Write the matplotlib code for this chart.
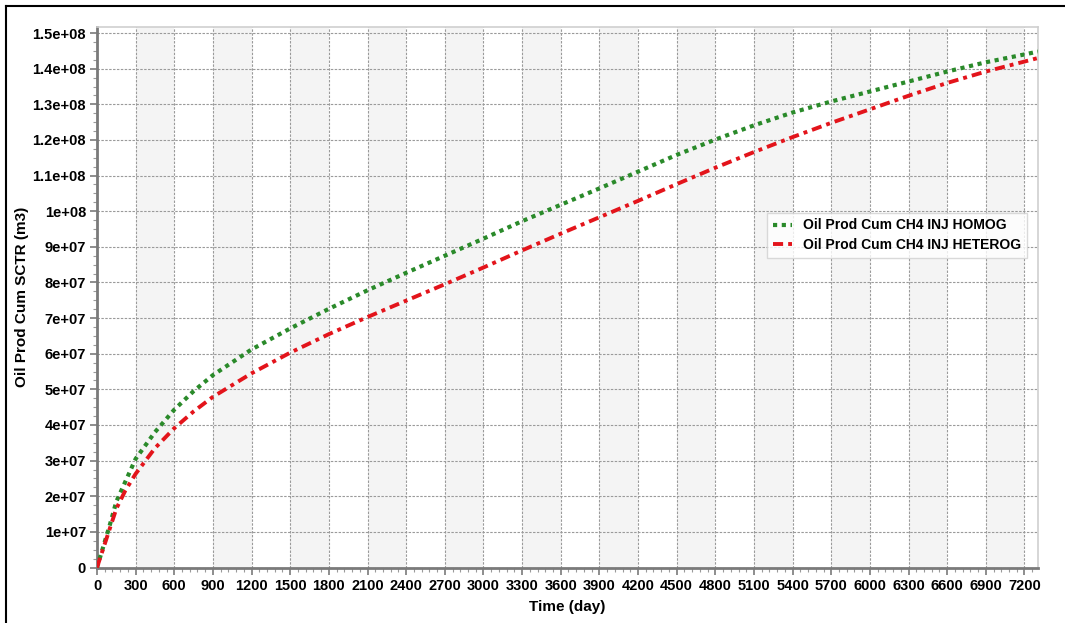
import matplotlib
matplotlib.use("Agg")
import matplotlib.pyplot as plt
from matplotlib.ticker import MultipleLocator, AutoMinorLocator, FuncFormatter
from matplotlib.lines import Line2D

plt.rcParams['font.family'] = ['Liberation Sans', 'DejaVu Sans']
plt.rcParams['font.weight'] = 'bold'

# Cumulative oil production over time (days)
time_days = [0, 50, 100, 150, 220, 300, 450, 600, 750, 900, 1200, 1500, 1800,
             2100, 2400, 2700, 3000, 3300, 3600, 3900, 4200, 4500, 4800,
             5100, 5400, 5700, 6000, 6300, 6600, 6900, 7200, 7305]

oil_cum_homog = [0, 6.0e6, 12.0e6, 18.5e6, 24.1e6, 30.5e6, 38.0e6, 44.3e6,
                 49.5e6, 54.0e6, 61.2e6, 67.1e6, 72.6e6, 77.8e6, 82.7e6,
                 87.5e6, 92.3e6, 97.2e6, 101.8e6, 106.4e6, 111.1e6, 115.8e6,
                 120.1e6, 124.1e6, 127.7e6, 130.8e6, 133.6e6, 136.4e6,
                 139.2e6, 141.8e6, 144.0e6, 144.8e6]

oil_cum_heterog = [0, 5.5e6, 11.0e6, 16.5e6, 21.6e6, 26.3e6, 33.5e6, 39.1e6,
                   43.8e6, 47.9e6, 54.5e6, 60.3e6, 65.5e6, 70.3e6, 74.9e6,
                   79.5e6, 84.2e6, 89.0e6, 93.7e6, 98.3e6, 102.9e6, 107.6e6,
                   112.2e6, 116.6e6, 120.8e6, 124.8e6, 128.6e6, 132.4e6,
                   136.0e6, 139.2e6, 142.0e6, 143.0e6]

series_labels = ["Oil Prod Cum CH4 INJ HOMOG", "Oil Prod Cum CH4 INJ HETEROG"]
x_label = "Time (day)"
y_label = "Oil Prod Cum SCTR (m3)"

fig = plt.figure(figsize=(10.65, 6.23), dpi=100)
ax = fig.add_axes([97 / 1065, 1 - 567.5 / 623, (1038 - 97) / 1065, (567.5 - 27) / 623])

x_max = 7305
y_max = 1.517e8
ax.set_xlim(0, x_max)
ax.set_ylim(0, y_max)

# alternating shaded columns
for start in range(300, 7300, 600):
    ax.axvspan(start, min(start + 300, x_max), color='#f4f4f4', zorder=0, lw=0)

ax.grid(True, which='major', color='#9a9a9a', linestyle=(0, (2.2, 1.3)), linewidth=0.8, zorder=1)
ax.set_axisbelow(True)

green = '#2a8a2a'
red = '#e3141b'
ax.plot(time_days, oil_cum_homog, color=green, linestyle=(0, (1, 1.1)), linewidth=3.0,
        label=series_labels[0], zorder=3)
ax.plot(time_days, oil_cum_heterog, color=red, linestyle=(0, (2.6, 1.3, 1, 1.3)), linewidth=2.8,
        label=series_labels[1], zorder=3)

ax.xaxis.set_major_locator(MultipleLocator(300))
ax.xaxis.set_minor_locator(AutoMinorLocator(5))
ax.yaxis.set_major_locator(MultipleLocator(1e7))
ax.yaxis.set_minor_locator(AutoMinorLocator(4))


def sci_fmt(v, pos):
    if v == 0:
        return "0"
    s = "%.1e" % v
    mant, exp = s.split("e")
    if mant.endswith(".0"):
        mant = mant[:-2]
    return "%se+%02d" % (mant, int(exp))


ax.yaxis.set_major_formatter(FuncFormatter(sci_fmt))

for side in ['left', 'bottom']:
    ax.spines[side].set_color('#7a7a7a')
    ax.spines[side].set_linewidth(2.0)
for side in ['top', 'right']:
    ax.spines[side].set_color('#cfcfcf')
    ax.spines[side].set_linewidth(1.2)

ax.tick_params(axis='both', which='major', length=5, width=1.2, color='#7a7a7a',
               labelsize=10.5, pad=3)
ax.tick_params(axis='both', which='minor', length=3, width=0.8, color='#9a9a9a')
for lbl in ax.get_xticklabels() + ax.get_yticklabels():
    lbl.set_fontweight('bold')

ax.set_xlabel(x_label, fontsize=11, fontweight='bold', labelpad=5)
ax.set_ylabel(y_label, fontsize=11, fontweight='bold')
ax.yaxis.set_label_coords(-0.072, 0.5)

handles = [Line2D([], [], color=green, linestyle=(0, (1, 1.1)), linewidth=3.0),
           Line2D([], [], color=red, linestyle=(0, (2.6, 1.3, 1, 1.3)), linewidth=2.8)]
leg = ax.legend(handles, series_labels, loc='upper left', bbox_to_anchor=(0.712, 0.656),
                prop={'size': 10, 'weight': 'bold'}, frameon=True, fancybox=False,
                handlelength=1.4, handletextpad=0.8, borderpad=0.4, labelspacing=0.4,
                borderaxespad=0)
leg.get_frame().set_edgecolor('#d0d0d0')
leg.get_frame().set_linewidth(1.0)

# outer frame lines on top and left of the figure
fig.add_artist(Line2D([6 / 1065, 1], [1 - 6 / 623, 1 - 6 / 623], color='black', linewidth=1.5,
                      transform=fig.transFigure))
fig.add_artist(Line2D([6 / 1065, 6 / 1065], [0, 1 - 6 / 623], color='black', linewidth=1.5,
                      transform=fig.transFigure))

fig.savefig("out.png", dpi=100, facecolor='white')
